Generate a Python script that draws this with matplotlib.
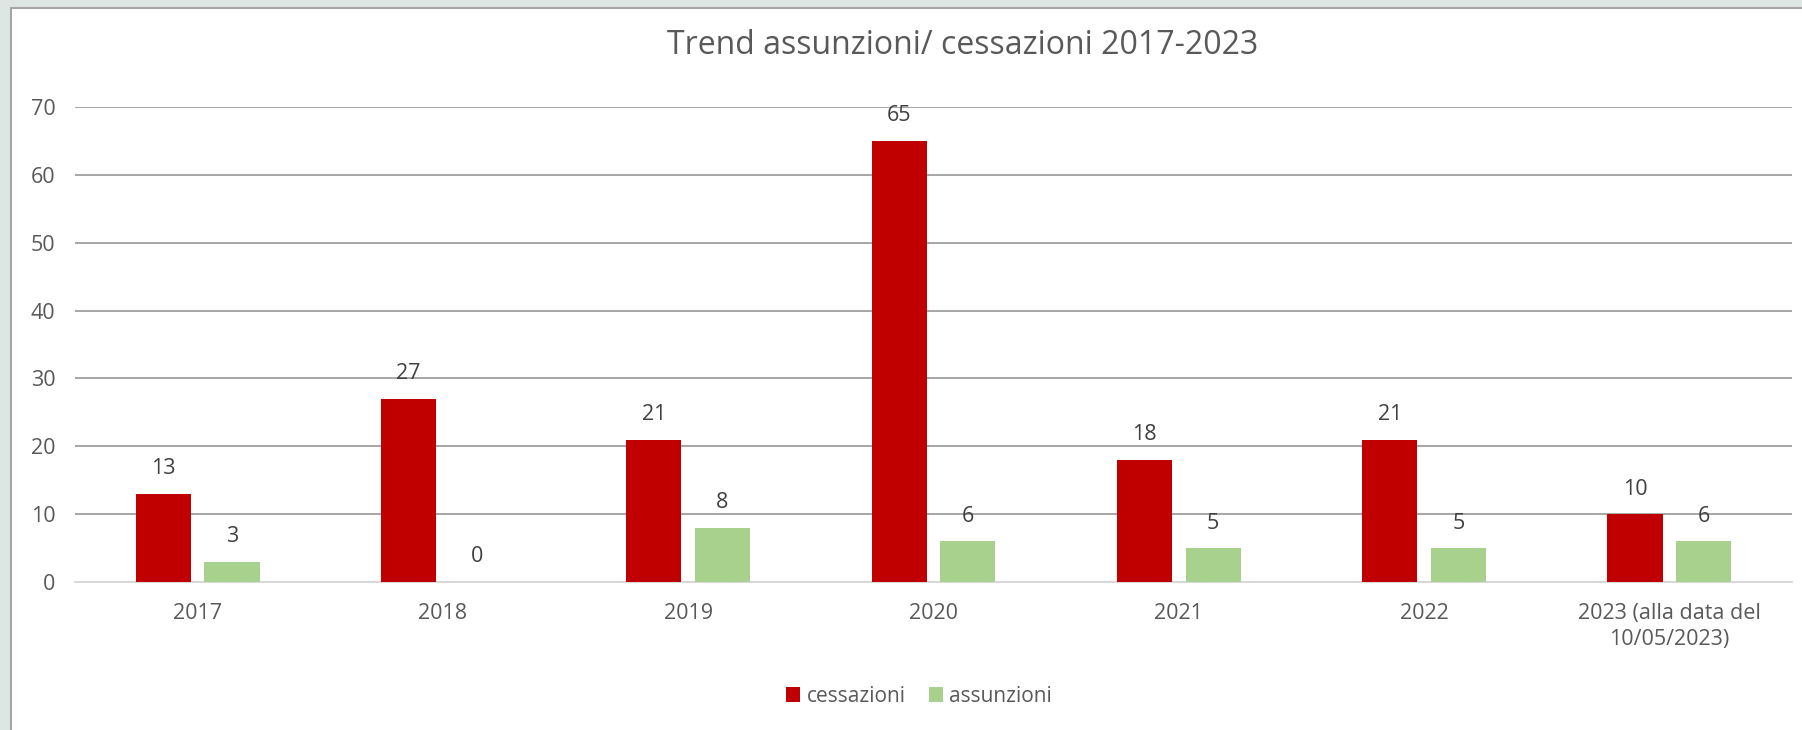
import matplotlib.pyplot as plt
from matplotlib.patches import Rectangle
import numpy as np

categories = ["2017", "2018", "2019", "2020", "2021", "2022", "2023 (alla data del\n10/05/2023)"]
cessazioni = [13, 27, 21, 65, 18, 21, 10]
assunzioni = [3, 0, 8, 6, 5, 5, 6]
title = "Trend assunzioni/ cessazioni 2017-2023"
yticks = [0, 10, 20, 30, 40, 50, 60, 70]

plt.rcParams['font.family'] = ['Open Sans', 'DejaVu Sans']

W, H = 1802, 730
fig = plt.figure(figsize=(W / 100, H / 100), dpi=100, facecolor="#DEE6E4")

# white chart panel with grey border
fig.patches.append(Rectangle((11 / W, -0.05), 1.1, 1 - 8 / H + 0.05,
                             transform=fig.transFigure, facecolor="white",
                             edgecolor="#A6A6A6", linewidth=1.5, zorder=-5))

ax = fig.add_axes([75 / W, 148 / H, (1792 - 75) / W, (582 - 107) / H])
ax.set_facecolor("none")
ax.set_zorder(2)

x = np.arange(len(categories))
bw = 0.225
off = 0.14
red, green = "#C00000", "#A9D18E"
b1 = ax.bar(x - off, cessazioni, bw, color=red, label="cessazioni", zorder=3)
b2 = ax.bar(x + off, assunzioni, bw, color=green, label="assunzioni", zorder=3)

for bars, vals in ((b1, cessazioni), (b2, assunzioni)):
    for r, v in zip(bars, vals):
        ax.annotate(str(v), (r.get_x() + r.get_width() / 2, v),
                    xytext=(0, 18), textcoords="offset points",
                    ha="center", va="center", fontsize=15.5, color="#404040")

ax.set_xlim(-0.5, len(categories) - 0.5)
ax.set_ylim(0, 70)
ax.set_yticks(yticks)
ax.yaxis.grid(True, color="#A6A6A6", linewidth=1.4, zorder=0)
ax.set_axisbelow(True)
for s in ("top", "right", "left"):
    ax.spines[s].set_visible(False)
ax.spines["bottom"].set_color("#D9D9D9")
ax.spines["bottom"].set_linewidth(1.4)
ax.tick_params(axis="both", length=0, labelsize=15.5, colors="#595959")
ax.tick_params(axis="y", pad=14)
ax.tick_params(axis="x", pad=15)
ax.set_xticks(x)
ax.set_xticklabels(categories, linespacing=1.3)

fig.text(963 / W, 1 - 46 / H, title, ha="center", va="center",
         fontsize=23, color="#595959")

fig.legend(handles=[b1, b2], loc="center", bbox_to_anchor=(919 / W, 1 - 696 / H),
           ncol=2, frameon=False, fontsize=15, labelcolor="#595959",
           handlelength=0.7, handleheight=0.7, handletextpad=0.3,
           columnspacing=1.1)

fig.savefig("out.png", dpi=100, facecolor=fig.get_facecolor())
